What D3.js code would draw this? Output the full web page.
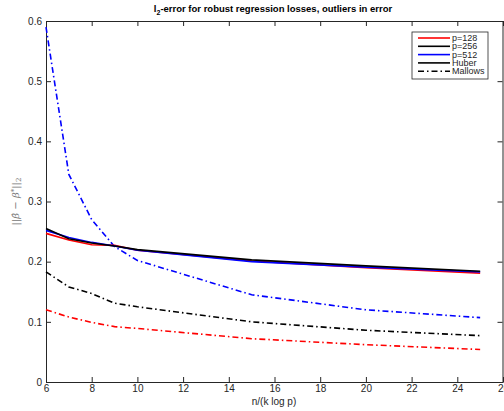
<!DOCTYPE html>
<html>
<head>
<meta charset="utf-8">
<script src="https://cdn.jsdelivr.net/npm/d3@7"></script>
<style>
  body { margin: 0; background: #fff; }
  svg { font-family: "Liberation Sans", Arial, sans-serif; }
</style>
</head>
<body>
<div id="chart"></div>
<script>
// sample sizes (n / (k log p))
const xValues = [6, 7, 8, 9, 10, 15, 20, 25];

// Huber loss (solid)
const huber128 = [0.247, 0.236, 0.228, 0.227, 0.219, 0.201, 0.190, 0.181];
const huber256 = [0.255, 0.238, 0.231, 0.226, 0.220, 0.203, 0.193, 0.184];
const huber512 = [0.252, 0.240, 0.232, 0.226, 0.219, 0.200, 0.191, 0.183];

// Mallows loss (dash-dot)
const mallows128 = [0.120, 0.108, 0.099, 0.092, 0.089, 0.072, 0.062, 0.054];
const mallows256 = [0.183, 0.158, 0.147, 0.131, 0.125, 0.100, 0.086, 0.077];
const mallows512 = [0.590, 0.345, 0.270, 0.225, 0.202, 0.145, 0.120, 0.107];

const xTicks = [6, 8, 10, 12, 14, 16, 18, 20, 22, 24, 26];
const yTicks = [0, 0.1, 0.2, 0.3, 0.4, 0.5, 0.6];

const legendLabels = ["p=128", "p=256", "p=512", "Huber", "Mallows"];

const width = 504, height = 411;
const margin = { top: 21, right: 1, bottom: 29, left: 46 };

const svg = d3.select("#chart")
    .append("svg")
    .attr("width", width)
    .attr("height", height);

const x = d3.scaleLinear()
    .domain([6, 26])
    .range([margin.left, width - margin.right]);

const y = d3.scaleLinear()
    .domain([0, 0.6])
    .range([height - margin.bottom, margin.top]);

const dashDot = "6,3,1.5,3";

const series = [
    { vals: mallows512, color: "#0000ff", dash: dashDot },
    { vals: mallows256, color: "#000000", dash: dashDot },
    { vals: mallows128, color: "#ff0000", dash: dashDot },
    { vals: huber128, color: "#ff0000", dash: null },
    { vals: huber512, color: "#0000ff", dash: null },
    { vals: huber256, color: "#000000", dash: null },
];

const line = d3.line()
    .x(d => x(d[0]))
    .y(d => y(d[1]));

// axes box with inward ticks
const axisColor = "#262626";
const axBottom = svg.append("g")
    .attr("transform", `translate(0,${y(0)})`)
    .call(d3.axisBottom(x).tickValues(xTicks).tickSizeInner(-5).tickSizeOuter(0).tickPadding(4));
const axTop = svg.append("g")
    .attr("transform", `translate(0,${y(0.6)})`)
    .call(d3.axisTop(x).tickValues(xTicks).tickSizeInner(-5).tickSizeOuter(0).tickFormat(""));
const axLeft = svg.append("g")
    .attr("transform", `translate(${x(6)},0)`)
    .call(d3.axisLeft(y).tickValues(yTicks).tickSizeInner(-5).tickSizeOuter(0).tickPadding(4).tickFormat(d3.format("~g")));
const axRight = svg.append("g")
    .attr("transform", `translate(${x(26) - 0.5},0)`)
    .call(d3.axisRight(y).tickValues(yTicks).tickSizeInner(-5).tickSizeOuter(0).tickFormat(""));

[axBottom, axTop, axLeft, axRight].forEach(g => {
    g.selectAll("path, line").attr("stroke", axisColor).attr("stroke-width", 1);
    g.selectAll("text").attr("fill", axisColor).style("font-size", "10px")
        .style("font-family", "Liberation Sans, Arial, sans-serif");
});
axBottom.selectAll("text").attr("dy", "0.55em");

svg.append("g")
    .selectAll("path")
    .data(series)
    .join("path")
    .attr("d", s => line(xValues.map((v, i) => [v, s.vals[i]])))
    .attr("fill", "none")
    .attr("stroke", s => s.color)
    .attr("stroke-width", 1.6)
    .attr("stroke-dasharray", s => s.dash);

// title
const title = svg.append("text")
    .attr("x", 273)
    .attr("y", 12)
    .attr("text-anchor", "middle")
    .style("font-size", "9.5px")
    .style("font-weight", "bold")
    .attr("fill", "#000");
title.append("tspan").text("l");
title.append("tspan").attr("dy", 3).style("font-size", "7px").text("2");
title.append("tspan").attr("dy", -3).text("-error for robust regression losses, outliers in error");

// x label
svg.append("text")
    .attr("x", 274)
    .attr("y", 405)
    .attr("text-anchor", "middle")
    .style("font-size", "10px")
    .attr("fill", axisColor)
    .text("n/(k log p)");

// y label
const yl = svg.append("text")
    .attr("transform", `translate(19,${y(0.3)}) rotate(-90)`)
    .attr("text-anchor", "middle")
    .style("font-size", "10px")
    .style("font-family", "DejaVu Serif, serif")
    .attr("fill", "#777");
yl.append("tspan").text("||");
yl.append("tspan").style("font-style", "italic").text("\u03B2\u0302");
yl.append("tspan").text(" \u2212 ");
yl.append("tspan").style("font-style", "italic").text("\u03B2");
yl.append("tspan").attr("dy", -3).style("font-size", "7px").text("*");
yl.append("tspan").attr("dy", 3).text("||");
yl.append("tspan").attr("dy", 2).style("font-size", "7px").text("2");

// legend
const legendColors = ["#ff0000", "#000000", "#0000ff", "#000000", "#000000"];
const legendDash = [null, null, null, null, dashDot];
const lg = svg.append("g").attr("transform", "translate(412,32)");
lg.append("rect")
    .attr("width", 76)
    .attr("height", 47)
    .attr("fill", "#fff")
    .attr("stroke", axisColor)
    .attr("stroke-width", 0.8);
const items = lg.selectAll("g.item")
    .data(legendLabels)
    .join("g")
    .attr("transform", (d, i) => `translate(0,${6 + i * 8.3})`);
items.append("line")
    .attr("x1", 6).attr("x2", 38)
    .attr("stroke", (d, i) => legendColors[i])
    .attr("stroke-width", 1.6)
    .attr("stroke-dasharray", (d, i) => legendDash[i]);
items.append("text")
    .attr("x", 40)
    .attr("dy", "0.35em")
    .style("font-size", "9px")
    .attr("fill", axisColor)
    .text(d => d);
</script>
</body>
</html>
